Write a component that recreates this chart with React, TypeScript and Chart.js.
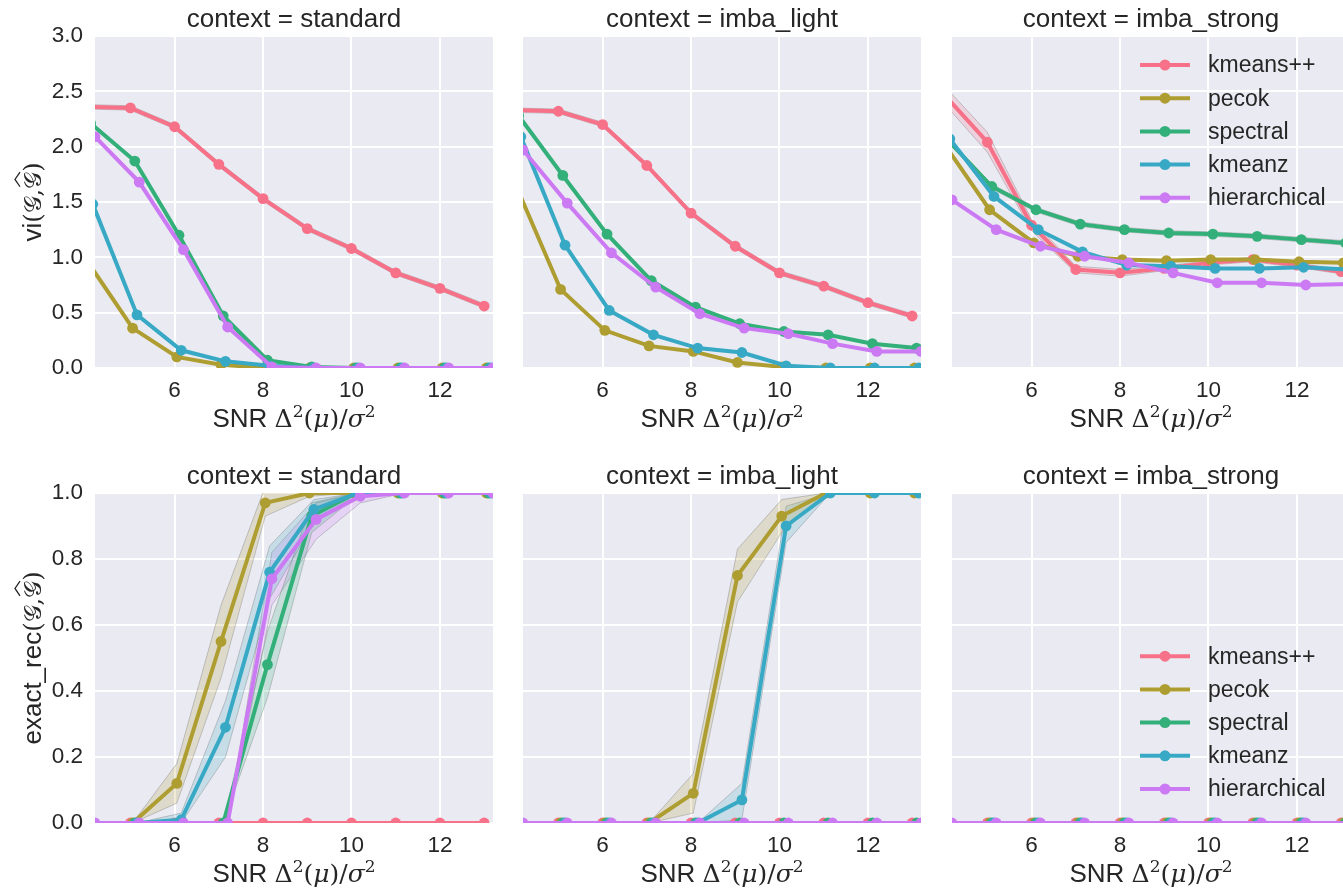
import React, { useEffect, useRef } from "react";
import { Chart, registerables } from "chart.js";

Chart.register(...registerables);

// ---------- categories / styling constants ----------
const METHODS = ["kmeans++", "pecok", "spectral", "kmeanz", "hierarchical"];
const COLORS = ["#f77189", "#ae9d31", "#33b07a", "#38a9c5", "#cc7af4"];
const CONTEXTS = ["standard", "imba_light", "imba_strong"];
const X_TICKS = [6, 8, 10, 12];
const VI_TICKS_STEP = 0.5;
const REC_TICKS_STEP = 0.2;

// ---------- SNR positions per method ----------
const X_KMEANSPP = [4, 5, 6, 7, 8, 9, 10, 11, 12, 13];
const X_PECOK = [4.05, 5.05, 6.05, 7.05, 8.05, 9.05, 10.05, 11.05, 12.05, 13.05];
const X_SPECTRAL = [4.1, 5.1, 6.1, 7.1, 8.1, 9.1, 10.1, 11.1, 12.1, 13.1];
const X_KMEANZ = [4.15, 5.15, 6.15, 7.15, 8.15, 9.15, 10.15, 11.15, 12.15, 13.15];
const X_HIER = [4.2, 5.2, 6.2, 7.2, 8.2, 9.2, 10.2, 11.2, 12.2, 13.2];

// ---------- vi : context = standard ----------
const VI_STANDARD_KMEANSPP = [2.36, 2.35, 2.18, 1.84, 1.53, 1.26, 1.08, 0.86, 0.72, 0.56];
const VI_STANDARD_PECOK = [0.95, 0.36, 0.1, 0.03, 0.0, 0, 0, 0, 0, 0];
const VI_STANDARD_SPECTRAL = [2.21, 1.87, 1.2, 0.47, 0.07, 0.01, 0, 0, 0, 0];
const VI_STANDARD_KMEANZ = [1.48, 0.48, 0.16, 0.06, 0.02, 0, 0, 0, 0, 0];
const VI_STANDARD_HIER = [2.09, 1.68, 1.07, 0.37, 0.01, 0, 0, 0, 0, 0];
const VI_STANDARD_KMEANSPP_LO = [2.34, 2.33, 2.16, 1.82, 1.51, 1.24, 1.06, 0.84, 0.7, 0.54];
const VI_STANDARD_KMEANSPP_HI = [2.38, 2.37, 2.2, 1.86, 1.55, 1.28, 1.1, 0.88, 0.74, 0.58];

// ---------- vi : context = imba_light ----------
const VI_LIGHT_KMEANSPP = [2.33, 2.32, 2.2, 1.83, 1.4, 1.1, 0.86, 0.74, 0.59, 0.47];
const VI_LIGHT_PECOK = [1.64, 0.71, 0.34, 0.2, 0.15, 0.05, 0.01, 0, 0, 0];
const VI_LIGHT_SPECTRAL = [2.28, 1.74, 1.21, 0.79, 0.55, 0.4, 0.33, 0.3, 0.22, 0.18];
const VI_LIGHT_KMEANZ = [2.09, 1.11, 0.52, 0.3, 0.18, 0.14, 0.02, 0, 0, 0];
const VI_LIGHT_HIER = [1.97, 1.49, 1.04, 0.73, 0.49, 0.36, 0.31, 0.22, 0.15, 0.15];
const VI_LIGHT_KMEANSPP_LO = [2.31, 2.3, 2.18, 1.81, 1.38, 1.08, 0.84, 0.72, 0.57, 0.45];
const VI_LIGHT_KMEANSPP_HI = [2.35, 2.34, 2.22, 1.85, 1.42, 1.12, 0.88, 0.76, 0.61, 0.49];

// ---------- vi : context = imba_strong ----------
const VI_STRONG_KMEANSPP = [2.48, 2.04, 1.29, 0.89, 0.86, 0.9, 0.95, 0.98, 0.93, 0.87];
const VI_STRONG_PECOK = [2.01, 1.43, 1.13, 1.01, 0.98, 0.97, 0.98, 0.98, 0.96, 0.95];
const VI_STRONG_SPECTRAL = [2.06, 1.64, 1.43, 1.3, 1.25, 1.22, 1.21, 1.19, 1.16, 1.13];
const VI_STRONG_KMEANZ = [2.07, 1.55, 1.25, 1.05, 0.93, 0.92, 0.9, 0.9, 0.91, 0.89];
const VI_STRONG_HIER = [1.52, 1.25, 1.1, 1.01, 0.95, 0.86, 0.77, 0.77, 0.75, 0.76];
const VI_STRONG_KMEANSPP_LO = [2.4, 1.95, 1.24, 0.86, 0.83, 0.88, 0.93, 0.96, 0.91, 0.85];
const VI_STRONG_KMEANSPP_HI = [2.56, 2.13, 1.34, 0.92, 0.89, 0.92, 0.97, 1.0, 0.95, 0.89];
const VI_STRONG_SPECTRAL_LO = [2.04, 1.62, 1.41, 1.28, 1.23, 1.2, 1.19, 1.17, 1.14, 1.11];
const VI_STRONG_SPECTRAL_HI = [2.08, 1.66, 1.45, 1.32, 1.27, 1.24, 1.23, 1.21, 1.18, 1.15];

// ---------- exact_rec : context = standard ----------
const REC_STANDARD_KMEANSPP = [0, 0, 0, 0, 0, 0, 0, 0, 0, 0];
const REC_STANDARD_PECOK = [0, 0, 0.12, 0.55, 0.97, 1, 1, 1, 1, 1];
const REC_STANDARD_SPECTRAL = [0, 0, 0, 0, 0.48, 0.93, 1, 1, 1, 1];
const REC_STANDARD_KMEANZ = [0, 0, 0.01, 0.29, 0.76, 0.95, 1, 1, 1, 1];
const REC_STANDARD_HIER = [0, 0, 0, 0, 0.74, 0.92, 0.99, 1, 1, 1];
const REC_STANDARD_PECOK_LO = [0, 0, 0.06, 0.44, 0.93, 0.99, 1, 1, 1, 1];
const REC_STANDARD_PECOK_HI = [0, 0, 0.18, 0.66, 1.02, 1.01, 1, 1, 1, 1];
const REC_STANDARD_SPECTRAL_LO = [0, 0, 0, 0, 0.38, 0.88, 0.99, 1, 1, 1];
const REC_STANDARD_SPECTRAL_HI = [0, 0, 0, 0, 0.58, 0.97, 1, 1, 1, 1];
const REC_STANDARD_KMEANZ_LO = [0, 0, 0, 0.2, 0.68, 0.91, 1, 1, 1, 1];
const REC_STANDARD_KMEANZ_HI = [0, 0, 0.03, 0.37, 0.84, 0.98, 1, 1, 1, 1];
const REC_STANDARD_HIER_LO = [0, 0, 0, 0, 0.66, 0.86, 0.97, 1, 1, 1];
const REC_STANDARD_HIER_HI = [0, 0, 0, 0, 0.82, 0.97, 1, 1, 1, 1];

// ---------- exact_rec : context = imba_light ----------
const REC_LIGHT_KMEANSPP = [0, 0, 0, 0, 0, 0, 0, 0, 0, 0];
const REC_LIGHT_PECOK = [0, 0, 0, 0, 0.09, 0.75, 0.93, 1, 1, 1];
const REC_LIGHT_SPECTRAL = [0, 0, 0, 0, 0, 0, 0, 0, 0, 0];
const REC_LIGHT_KMEANZ = [0, 0, 0, 0, 0, 0.07, 0.9, 1, 1, 1];
const REC_LIGHT_HIER = [0, 0, 0, 0, 0, 0, 0, 0, 0, 0];
const REC_LIGHT_PECOK_LO = [0, 0, 0, 0, 0.03, 0.67, 0.88, 1, 1, 1];
const REC_LIGHT_PECOK_HI = [0, 0, 0, 0, 0.15, 0.83, 0.98, 1, 1, 1];
const REC_LIGHT_KMEANZ_LO = [0, 0, 0, 0, 0, 0.01, 0.85, 1, 1, 1];
const REC_LIGHT_KMEANZ_HI = [0, 0, 0, 0, 0, 0.12, 0.96, 1, 1, 1];

// ---------- exact_rec : context = imba_strong ----------
const REC_STRONG_KMEANSPP = [0, 0, 0, 0, 0, 0, 0, 0, 0, 0];
const REC_STRONG_PECOK = [0, 0, 0, 0, 0, 0, 0, 0, 0, 0];
const REC_STRONG_SPECTRAL = [0, 0, 0, 0, 0, 0, 0, 0, 0, 0];
const REC_STRONG_KMEANZ = [0, 0, 0, 0, 0, 0, 0, 0, 0, 0];
const REC_STRONG_HIER = [0, 0, 0, 0, 0, 0, 0, 0, 0, 0];

const XS = [X_KMEANSPP, X_PECOK, X_SPECTRAL, X_KMEANZ, X_HIER];

// ---------- layout ----------
const SANS = "'Liberation Sans', Arial, sans-serif";
const SERIF = "'DejaVu Serif', 'Liberation Serif', serif";
const TEXT = "#262626";
const BG = "#eaeaf2";
const PLOT_LEFT = [95, 523, 952];
const PLOT_W = 398;
const PLOT_TOP = [36, 493];
const PLOT_H = [332, 330];
const M_LEFT = 95;
const M_TOP = 36;
const M_RIGHT = 12;
const M_BOTTOM = 78;

type Band = { series: number; lo: number[]; hi: number[] };
type PanelSpec = {
  row: number;
  col: number;
  metric: "vi" | "rec";
  series: number[][];
  bands: Band[];
  legend: boolean;
};

const PANELS: PanelSpec[] = [
  {
    row: 0, col: 0, metric: "vi", legend: false,
    series: [VI_STANDARD_KMEANSPP, VI_STANDARD_PECOK, VI_STANDARD_SPECTRAL, VI_STANDARD_KMEANZ, VI_STANDARD_HIER],
    bands: [{ series: 0, lo: VI_STANDARD_KMEANSPP_LO, hi: VI_STANDARD_KMEANSPP_HI }],
  },
  {
    row: 0, col: 1, metric: "vi", legend: false,
    series: [VI_LIGHT_KMEANSPP, VI_LIGHT_PECOK, VI_LIGHT_SPECTRAL, VI_LIGHT_KMEANZ, VI_LIGHT_HIER],
    bands: [{ series: 0, lo: VI_LIGHT_KMEANSPP_LO, hi: VI_LIGHT_KMEANSPP_HI }],
  },
  {
    row: 0, col: 2, metric: "vi", legend: true,
    series: [VI_STRONG_KMEANSPP, VI_STRONG_PECOK, VI_STRONG_SPECTRAL, VI_STRONG_KMEANZ, VI_STRONG_HIER],
    bands: [
      { series: 0, lo: VI_STRONG_KMEANSPP_LO, hi: VI_STRONG_KMEANSPP_HI },
      { series: 2, lo: VI_STRONG_SPECTRAL_LO, hi: VI_STRONG_SPECTRAL_HI },
    ],
  },
  {
    row: 1, col: 0, metric: "rec", legend: false,
    series: [REC_STANDARD_KMEANSPP, REC_STANDARD_PECOK, REC_STANDARD_SPECTRAL, REC_STANDARD_KMEANZ, REC_STANDARD_HIER],
    bands: [
      { series: 1, lo: REC_STANDARD_PECOK_LO, hi: REC_STANDARD_PECOK_HI },
      { series: 2, lo: REC_STANDARD_SPECTRAL_LO, hi: REC_STANDARD_SPECTRAL_HI },
      { series: 3, lo: REC_STANDARD_KMEANZ_LO, hi: REC_STANDARD_KMEANZ_HI },
      { series: 4, lo: REC_STANDARD_HIER_LO, hi: REC_STANDARD_HIER_HI },
    ],
  },
  {
    row: 1, col: 1, metric: "rec", legend: false,
    series: [REC_LIGHT_KMEANSPP, REC_LIGHT_PECOK, REC_LIGHT_SPECTRAL, REC_LIGHT_KMEANZ, REC_LIGHT_HIER],
    bands: [
      { series: 1, lo: REC_LIGHT_PECOK_LO, hi: REC_LIGHT_PECOK_HI },
      { series: 3, lo: REC_LIGHT_KMEANZ_LO, hi: REC_LIGHT_KMEANZ_HI },
    ],
  },
  {
    row: 1, col: 2, metric: "rec", legend: true,
    series: [REC_STRONG_KMEANSPP, REC_STRONG_PECOK, REC_STRONG_SPECTRAL, REC_STRONG_KMEANZ, REC_STRONG_HIER],
    bands: [],
  },
];

function hexA(hex: string, a: number) {
  const r = parseInt(hex.slice(1, 3), 16);
  const g = parseInt(hex.slice(3, 5), 16);
  const b = parseInt(hex.slice(5, 7), 16);
  return `rgba(${r},${g},${b},${a})`;
}

type Seg = { t: string; font: string; dy?: number; hat?: boolean };

function drawSegs(ctx: CanvasRenderingContext2D, segs: Seg[], cx: number, y: number) {
  let total = 0;
  const widths = segs.map((s) => {
    ctx.font = s.font;
    const w = ctx.measureText(s.t).width;
    total += w;
    return w;
  });
  let x = cx - total / 2;
  segs.forEach((s, i) => {
    ctx.font = s.font;
    ctx.fillText(s.t, x, y + (s.dy || 0));
    if (s.hat) {
      const w = widths[i];
      ctx.save();
      ctx.strokeStyle = TEXT;
      ctx.lineWidth = 1.3;
      ctx.beginPath();
      ctx.moveTo(x + w * 0.12, y - 21);
      ctx.lineTo(x + w * 0.55, y - 26);
      ctx.lineTo(x + w * 0.98, y - 21);
      ctx.stroke();
      ctx.restore();
    }
    x += widths[i];
  });
}

function makeDecor(spec: PanelSpec) {
  return {
    id: "panelDecor",
    beforeDraw(chart: any) {
      const { ctx, chartArea: a } = chart;
      ctx.save();
      ctx.fillStyle = BG;
      ctx.fillRect(a.left, a.top, a.right - a.left, a.bottom - a.top);
      ctx.restore();
    },
    afterDraw(chart: any) {
      const { ctx, chartArea: a } = chart;
      const cx = (a.left + a.right) / 2;
      ctx.save();
      ctx.fillStyle = TEXT;
      ctx.textAlign = "center";
      ctx.textBaseline = "alphabetic";
      ctx.font = `26px ${SANS}`;
      ctx.fillText(`context = ${CONTEXTS[spec.col]}`, cx, a.top - 9.5);

      // x label
      ctx.textAlign = "left";
      drawSegs(
        ctx,
        [
          { t: "SNR ", font: `26px ${SANS}` },
          { t: "Δ", font: `25px ${SERIF}` },
          { t: "2", font: `17px ${SERIF}`, dy: -10 },
          { t: "(", font: `25px ${SERIF}` },
          { t: "μ", font: `italic 25px ${SERIF}` },
          { t: ")/", font: `25px ${SERIF}` },
          { t: "σ", font: `italic 25px ${SERIF}` },
          { t: "2", font: `17px ${SERIF}`, dy: -10 },
        ],
        cx,
        a.bottom + 59
      );

      // y label
      if (spec.col === 0) {
        ctx.save();
        ctx.translate(41, (a.top + a.bottom) / 2);
        ctx.rotate(-Math.PI / 2);
        const name = spec.metric === "vi" ? "vi" : "exact_rec";
        drawSegs(
          ctx,
          [
            { t: name, font: `26px ${SANS}` },
            { t: "(", font: `24px ${SERIF}` },
            { t: "𝒢", font: `24px ${SERIF}` },
            { t: ",", font: `24px ${SERIF}` },
            { t: "𝒢", font: `24px ${SERIF}`, hat: true },
            { t: ")", font: `24px ${SERIF}` },
          ],
          0,
          0
        );
        ctx.restore();
      }

      // legend
      if (spec.legend) {
        const gap = 33.2;
        const y0 = spec.row === 0 ? a.top + 29 : a.bottom - 34 - 4 * gap;
        const lx = a.left + 188;
        METHODS.forEach((m, i) => {
          const y = y0 + i * gap;
          ctx.strokeStyle = COLORS[i];
          ctx.lineWidth = 4;
          ctx.lineCap = "butt";
          ctx.beginPath();
          ctx.moveTo(lx, y);
          ctx.lineTo(lx + 50, y);
          ctx.stroke();
          ctx.fillStyle = COLORS[i];
          ctx.beginPath();
          ctx.arc(lx + 25, y, 5.5, 0, Math.PI * 2);
          ctx.fill();
          ctx.fillStyle = TEXT;
          ctx.font = `23px ${SANS}`;
          ctx.textAlign = "left";
          ctx.textBaseline = "middle";
          ctx.fillText(m, lx + 68, y + 1);
        });
      }
      ctx.restore();
    },
  };
}

function Panel({ spec }: { spec: PanelSpec }) {
  const ref = useRef<HTMLCanvasElement>(null);
  useEffect(() => {
    if (!ref.current) return;
    const datasets: any[] = [];
    spec.bands.forEach((b) => {
      const xs = XS[b.series];
      const edge = "rgba(110,110,110,0.35)";
      datasets.push({
        data: xs.map((x, j) => ({ x, y: b.hi[j] })),
        borderColor: edge,
        borderWidth: 1,
        backgroundColor: hexA(COLORS[b.series], 0.2),
        pointRadius: 0,
        fill: "+1",
        clip: 0,
        order: 50,
      });
      datasets.push({
        data: xs.map((x, j) => ({ x, y: b.lo[j] })),
        borderColor: edge,
        borderWidth: 1,
        pointRadius: 0,
        fill: false,
        clip: 0,
        order: 50,
      });
    });
    spec.series.forEach((ys, i) => {
      datasets.push({
        label: METHODS[i],
        data: XS[i].map((x, j) => ({ x, y: ys[j] })),
        borderColor: COLORS[i],
        backgroundColor: COLORS[i],
        pointBackgroundColor: COLORS[i],
        pointBorderColor: COLORS[i],
        pointBorderWidth: 0,
        pointRadius: 5.4,
        borderWidth: 4,
        fill: false,
        tension: 0,
        clip: 0,
        order: 10 - i,
      });
    });
    const isVi = spec.metric === "vi";
    const chart = new Chart(ref.current, {
      type: "line",
      data: { datasets },
      options: {
        animation: false,
        responsive: true,
        maintainAspectRatio: false,
        devicePixelRatio: 1,
        events: [],
        layout: { padding: { top: M_TOP, right: M_RIGHT, left: 0, bottom: 0 } },
        plugins: { legend: { display: false }, tooltip: { enabled: false }, title: { display: false } },
        scales: {
          x: {
            type: "linear",
            min: 4.2,
            max: 13.2,
            afterBuildTicks: (s: any) => {
              s.ticks = X_TICKS.map((v) => ({ value: v }));
            },
            afterFit: (s: any) => {
              s.height = M_BOTTOM;
            },
            ticks: { font: { family: SANS, size: 22.5 }, color: TEXT, padding: 9, maxRotation: 0 },
            grid: { color: "#ffffff", lineWidth: 2, drawTicks: false },
            border: { display: false },
          },
          y: {
            type: "linear",
            min: 0,
            max: isVi ? 3 : 1,
            afterFit: (s: any) => {
              s.width = M_LEFT;
            },
            ticks: {
              stepSize: isVi ? VI_TICKS_STEP : REC_TICKS_STEP,
              display: spec.col === 0,
              font: { family: SANS, size: 22.5 },
              color: TEXT,
              padding: 12,
              callback: (v: any) => Number(v).toFixed(1),
            },
            grid: { color: "#ffffff", lineWidth: 2, drawTicks: false },
            border: { display: false },
          },
        },
      } as any,
      plugins: [makeDecor(spec)],
    });
    return () => chart.destroy();
  }, [spec]);

  const left = PLOT_LEFT[spec.col] - M_LEFT;
  const top = PLOT_TOP[spec.row] - M_TOP;
  const width = M_LEFT + PLOT_W + M_RIGHT;
  const height = M_TOP + PLOT_H[spec.row] + M_BOTTOM;
  return (
    <div style={{ position: "absolute", left, top, width, height }}>
      <canvas ref={ref} />
    </div>
  );
}

export default function App() {
  return (
    <div
      style={{
        position: "fixed",
        left: 0,
        top: 0,
        width: 1343,
        height: 895,
        overflow: "hidden",
        background: "#ffffff",
      }}
    >
      {PANELS.map((p) => (
        <Panel key={`${p.row}-${p.col}`} spec={p} />
      ))}
    </div>
  );
}
